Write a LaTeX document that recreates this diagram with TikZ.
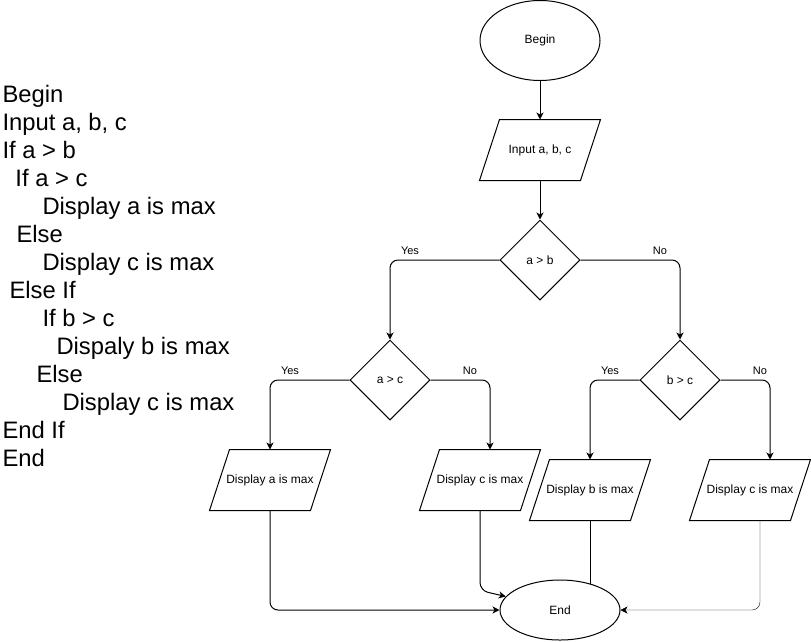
\documentclass[tikz,border=0pt]{standalone}
\usepackage{fontspec}
\setmainfont{Liberation Sans}
\usetikzlibrary{shapes.geometric,arrows.meta,calc,backgrounds}
\newcommand\paragram[1]{\draw ($(#1.south west)+(-10,0)$) -- ($(#1.south east)+(-10,0)$) -- ($(#1.north east)+(10,0)$) -- ($(#1.north west)+(10,0)$) -- cycle;}
\begin{document}
\begin{tikzpicture}[x=1pt,y=-1pt,line width=1pt,
  term/.style={ellipse, draw, fill=white, inner sep=0, minimum width=120pt, minimum height=#1, font=\fontsize{12}{14}\selectfont},
  dec/.style={diamond, draw, fill=white, inner sep=0, minimum width=80pt, minimum height=80pt, font=\fontsize{12}{14}\selectfont},
  io/.style={rectangle, inner sep=0, minimum width=100pt, minimum height=60pt, font=\fontsize{12}{14}\selectfont},
  arr/.style={-{Stealth[length=7pt,width=7pt,inset=2pt]}, rounded corners=8pt},
  lbl/.style={inner sep=0, font=\fontsize{11}{13}\selectfont},
  code/.style={anchor=base west, inner sep=0, font=\fontsize{23.8}{28}\selectfont}
]
\useasboundingbox (0,0) rectangle (811,641);
% pseudo code
\node[code] (t1) at (2,102) {Begin};
\node[code] (t2) at (2,130) {Input a, b, c};
\node[code] (t3) at (2,158) {If a > b};
\node[code] (t4) at (15,186) {If a > c};
\node[code] (t5) at (42,214) {Display a is max};
\node[code] (t6) at (16,242) {Else};
\node[code] (t7) at (42,270) {Display c is max};
\node[code] (t8) at (9,298) {Else If};
\node[code] (t9) at (42,326) {If b > c};
\node[code] (t10) at (56,354) {Dispaly b is max};
\node[code] (t11) at (36,382) {Else};
\node[code] (t12) at (62,410) {Display c is max};
\node[code] (t13) at (2,438) {End If};
\node[code] (t14) at (2,466) {End};
% flowchart nodes
\node[term=80pt] (begin) at (540,40.5) {Begin};
\node[io] (in) at (540,150) {Input a, b, c};
\paragram{in}
\node[dec] (d1) at (540,260) {a > b};
\node[dec] (d2) at (390,380) {a > c};
\node[dec] (d3) at (680,380) {b > c};
\node[io] (pa) at (270,480) {Display a is max};
\paragram{pa}
\node[io] (pc1) at (480,480) {Display c is max};
\paragram{pc1}
\node[io] (pb) at (590,490) {Display b is max};
\paragram{pb}
\node[io] (pc2) at (750,490) {Display c is max};
\paragram{pc2}
\node[term=60pt] (end) at (560,610) {End};
% labels
\node[lbl] (y1) at (410,250.5) {Yes};
\node[lbl] (n1) at (660,250.5) {No};
\node[lbl] (y2) at (290,370.5) {Yes};
\node[lbl] (n2) at (470,370.5) {No};
\node[lbl] (y3) at (610,370.5) {Yes};
\node[lbl] (n3) at (760,370.5) {No};
% connectors
\draw[arr] (begin) -- (in);
\draw[arr] (in) -- (d1);
\draw[arr] (d1.west) -| (d2.north);
\draw[arr] (d1.east) -| (d3.north);
\draw[arr] (d2.west) -| (pa.north);
\draw[arr] (d2.east) -| ($(pc1.north)+(10,0)$);
\draw[arr] (d3.west) -| (pb.north);
\draw[arr] (d3.east) -| ($(pc2.north)+(20,0)$);
\draw[arr] (pa.south) |- (end.west);
\draw[arr] (pc1.south) -- ($(pc1.south)+(0,80)$) -- (end.166);
\begin{pgfonlayer}{background}
\draw[arr] (pb.south) -- ($(pb.south)+(0,71)$);
\end{pgfonlayer}
\draw[arr] ($(pc2.south)+(10,0)$) |- (end.east);
\end{tikzpicture}
\end{document}
